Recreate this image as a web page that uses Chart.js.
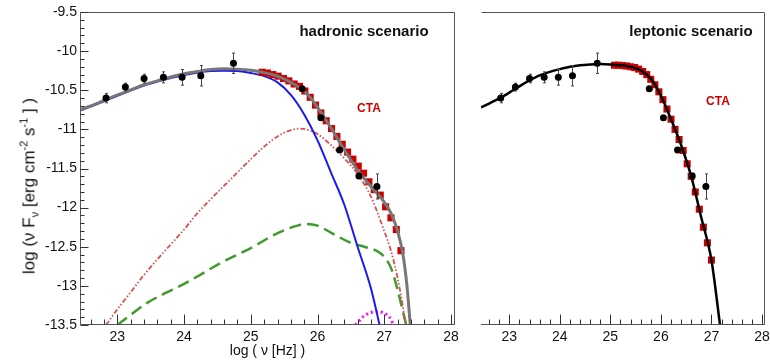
<!DOCTYPE html>
<html>
<head>
<meta charset="utf-8">
<script src="https://cdn.jsdelivr.net/npm/chart.js@4/dist/chart.umd.min.js"></script>
<style>
  html, body { margin: 0; padding: 0; background: #fff; overflow: hidden; }
  #wrap { position: relative; width: 770px; height: 363px; font-family: "Liberation Sans", Arial, sans-serif; color: #111; }
  canvas { position: absolute; top: 0; }
  #left { left: 0; }
  #right { left: 460px; }
  .lbl { position: absolute; white-space: nowrap; transform: translate(-50%, -50%); }
  .scen { font-weight: bold; font-size: 15px; }
  .cta { font-weight: bold; font-size: 12px; color: #cc0000; }
  #ylab { font-size: 17px; transform: translate(-50%, -50%) rotate(-90deg); }
  #ylab sub, #ylab sup { font-size: 11px; }
</style>
</head>
<body>
<div id="wrap">
  <canvas id="left" width="460" height="363"></canvas>
  <canvas id="right" width="310" height="363"></canvas>
  <div class="lbl" id="ylab" style="left:29px; top:186px;">log (&nu; F<sub>&nu;</sub> [erg cm<sup>-2</sup> s<sup>-1</sup> ] )</div>
  <div class="lbl scen" style="left:364px; top:30px;">hadronic scenario</div>
  <div class="lbl scen" style="left:691px; top:30px;">leptonic scenario</div>
  <div class="lbl cta" style="left:369px; top:108px;">CTA</div>
  <div class="lbl cta" style="left:718px; top:101px;">CTA</div>
</div>
<script>
// axis ranges and tick labels
const xMin = 22.44, xMax = 28.06;
const yMin = -13.5, yMax = -9.5;
const xTicks = [23, 24, 25, 26, 27, 28];
const yTicks = [-13.5, -13, -12.5, -12, -11.5, -11, -10.5, -10, -9.5];

// Fermi points (low energy), with errors
const fermiX = [22.83, 23.12, 23.40, 23.69, 23.97, 24.25, 24.74];
const fermiY = [-10.60, -10.46, -10.35, -10.335, -10.335, -10.315, -10.155];
const fermiErr = [0.06, 0.05, 0.055, 0.07, 0.10, 0.13, 0.13];

// high energy points
const hessX = [25.77, 26.05, 26.33, 26.62, 26.89];
const hessY = [-10.48, -10.85, -11.265, -11.595, -11.73];
const hessErr = [0.02, 0.02, 0.02, 0.03, 0.16];

// CTA simulated points, hadronic panel
const ctaHadX = [25.17, 25.25, 25.33, 25.41, 25.49, 25.57, 25.65, 25.73, 25.81, 25.89, 25.97, 26.05, 26.13, 26.21,
                 26.29, 26.37, 26.45, 26.53, 26.61, 26.69, 26.77, 26.85, 26.94, 27.02, 27.10, 27.18, 27.25];
const ctaHadY = [-10.27, -10.28, -10.30, -10.32, -10.35, -10.38, -10.42, -10.45, -10.51, -10.59, -10.69, -10.79, -10.89, -10.99,
                 -11.09, -11.19, -11.29, -11.38, -11.47, -11.56, -11.67, -11.77, -11.84, -11.99, -12.13, -12.28, -12.55];

// CTA simulated points, leptonic panel
const ctaLepX = [25.08, 25.16, 25.24, 25.32, 25.40, 25.48, 25.56, 25.64, 25.72, 25.80, 25.88, 25.96, 26.04,
                 26.12, 26.20, 26.28, 26.36, 26.44, 26.52, 26.60, 26.68, 26.76, 26.84, 26.92, 27.00];
const ctaLepY = [-10.18, -10.18, -10.185, -10.19, -10.20, -10.21, -10.23, -10.26, -10.30, -10.36, -10.43, -10.52, -10.62,
                 -10.74, -10.87, -11.00, -11.13, -11.27, -11.44, -11.60, -11.80, -12.02, -12.25, -12.45, -12.67];

// hadronic model: total (grey)
const totX = [22.44, 22.6, 22.8, 23.0, 23.2, 23.4, 23.6, 23.8, 24.0, 24.2, 24.4, 24.6, 24.8, 25.0, 25.2, 25.4,
              25.6, 25.8, 25.9, 26.0, 26.2, 26.4, 26.6, 26.8, 27.0, 27.1, 27.2, 27.28, 27.34, 27.39];
const totY = [-10.75, -10.70, -10.63, -10.56, -10.495, -10.43, -10.38, -10.33, -10.29, -10.26, -10.235, -10.225, -10.23, -10.245, -10.275, -10.32,
              -10.40, -10.51, -10.60, -10.72, -10.98, -11.26, -11.52, -11.73, -11.93, -12.07, -12.30, -12.60, -13.0, -13.5];

// hadronic model: synchrotron-like component (blue)
const blueX = [22.44, 22.6, 22.8, 23.0, 23.2, 23.4, 23.6, 23.8, 24.0, 24.2, 24.4, 24.6, 24.8, 25.0, 25.2, 25.4,
               25.6, 25.8, 26.0, 26.2, 26.4, 26.6, 26.8, 26.93];
const blueY = [-10.76, -10.71, -10.64, -10.57, -10.505, -10.44, -10.39, -10.345, -10.305, -10.275, -10.255, -10.25, -10.255, -10.28, -10.32, -10.40,
               -10.56, -10.81, -11.14, -11.55, -11.96, -12.50, -13.03, -13.5];

// hadronic model: red dash-dot component
const redX = [22.83, 23.0, 23.2, 23.4, 23.6, 23.8, 24.0, 24.2, 24.4, 24.6, 24.8, 25.0, 25.2, 25.4, 25.6, 25.75,
              25.9, 26.0, 26.2, 26.4, 26.6, 26.8, 27.0, 27.1, 27.2, 27.27, 27.32];
const redY = [-13.5, -13.3, -13.08, -12.86, -12.66, -12.47, -12.28, -12.07, -11.89, -11.72, -11.55, -11.38, -11.22, -11.09, -11.01, -10.99,
              -11.02, -11.06, -11.20, -11.37, -11.57, -11.86, -12.30, -12.55, -12.90, -13.22, -13.5];

// hadronic model: green dashed component
const greenX = [23.0, 23.2, 23.44, 23.7, 23.94, 24.2, 24.54, 24.8, 25.04, 25.3, 25.5, 25.7, 25.84, 26.0, 26.2, 26.5,
                26.7, 26.9, 27.0, 27.1, 27.2, 27.3, 27.33];
const greenY = [-13.5, -13.37, -13.22, -13.1, -13.0, -12.88, -12.71, -12.6, -12.5, -12.37, -12.29, -12.23, -12.21, -12.23, -12.32, -12.45,
                -12.5, -12.56, -12.63, -12.77, -13.05, -13.4, -13.5];

// hadronic model: magenta dotted component
const magX = [26.57, 26.69, 26.8, 26.92, 27.0, 27.07, 27.14];
const magY = [-13.5, -13.39, -13.34, -13.33, -13.35, -13.39, -13.5];

// leptonic model (black)
const lepX = [22.44, 22.6, 22.8, 23.0, 23.2, 23.4, 23.6, 23.8, 24.0, 24.2, 24.4, 24.6, 24.8, 25.0, 25.2, 25.4,
              25.6, 25.8, 26.0, 26.2, 26.4, 26.6, 26.8, 27.0, 27.17];
const lepY = [-10.72, -10.67, -10.605, -10.53, -10.45, -10.375, -10.31, -10.265, -10.23, -10.20, -10.18, -10.17, -10.165, -10.17, -10.18, -10.20,
              -10.245, -10.35, -10.57, -10.87, -11.20, -11.60, -12.13, -12.67, -13.5];

const FONT = "'Liberation Sans', Arial, sans-serif";

function pts(xs, ys) {
    return xs.map((x, i) => ({ x: x, y: ys[i] }));
}

function curve(xs, ys, color, width, dash, order) {
    return {
        data: pts(xs, ys),
        showLine: true,
        borderColor: color,
        borderWidth: width,
        borderDash: dash,
        pointRadius: 0,
        cubicInterpolationMode: "monotone",
        order: order
    };
}

function markers(xs, ys, style, color, radius, order, errs) {
    return {
        data: pts(xs, ys),
        showLine: false,
        pointStyle: style,
        pointRadius: radius,
        pointBackgroundColor: color,
        pointBorderColor: color,
        pointBorderWidth: 0,
        order: order,
        errorBars: errs
    };
}

// vertical error bars, drawn right before the dataset's own points
const errorBars = {
    id: "errorBars",
    beforeDatasetDraw(chart, args) {
        const ds = chart.data.datasets[args.index];
        if (!ds.errorBars) return;
        const ctx = chart.ctx, y = chart.scales.y;
        ctx.save();
        ctx.strokeStyle = "#444";
        ctx.lineWidth = 1;
        args.meta.data.forEach((p, i) => {
            const v = ds.data[i].y, e = ds.errorBars[i];
            const top = y.getPixelForValue(v + e), bot = y.getPixelForValue(v - e);
            const px = Math.round(p.x) + 0.5;
            ctx.beginPath();
            ctx.moveTo(px, top); ctx.lineTo(px, bot);
            ctx.moveTo(px - 1.5, top); ctx.lineTo(px + 1.5, top);
            ctx.moveTo(px - 1.5, bot); ctx.lineTo(px + 1.5, bot);
            ctx.stroke();
        });
        ctx.restore();
    }
};

// ROOT style frame with inward ticks
const frame = {
    id: "frame",
    afterDraw(chart, args, opts) {
        const ctx = chart.ctx, a = chart.chartArea;
        const x = chart.scales.x, y = chart.scales.y;
        const L = Math.round(a.left) + 0.5, R = Math.round(a.right) - 0.5;
        const T = Math.round(a.top) + 0.5, B = Math.round(a.bottom) - 0.5;
        ctx.save();
        ctx.strokeStyle = "#555";
        ctx.lineWidth = 1;
        ctx.beginPath();
        ctx.moveTo(L, T); ctx.lineTo(R, T); ctx.lineTo(R, B);
        ctx.moveTo(a.left, B); ctx.lineTo(a.right, B);
        if (opts.leftAxis) { ctx.moveTo(L, T); ctx.lineTo(L, B); }
        ctx.stroke();

        ctx.strokeStyle = "#333";
        ctx.beginPath();
        for (let i = 113; i <= 140; i++) {
            const px = Math.round(x.getPixelForValue(i / 5)) + 0.5;
            const len = (i % 5 === 0) ? 10 : 5;
            ctx.moveTo(px, B); ctx.lineTo(px, B - len);
        }
        if (opts.leftAxis) {
            for (let i = -135; i <= -95; i++) {
                const py = Math.round(y.getPixelForValue(i / 10)) + 0.5;
                const len = (i % 5 === 0) ? 8 : 4;
                ctx.moveTo(L, py); ctx.lineTo(L + len, py);
            }
        }
        ctx.stroke();
        ctx.restore();
    }
};

function makeChart(id, datasets, showY, pad, xTitle) {
    const ctx = document.getElementById(id).getContext("2d");
    return new Chart(ctx, {
        type: "scatter",
        data: { datasets: datasets },
        options: {
            responsive: false,
            animation: false,
            devicePixelRatio: 1,
            layout: { padding: pad },
            plugins: {
                legend: { display: false },
                tooltip: { enabled: false },
                frame: { leftAxis: showY }
            },
            scales: {
                x: {
                    type: "linear",
                    min: xMin,
                    max: xMax,
                    afterBuildTicks: s => { s.ticks = xTicks.map(v => ({ value: v })); },
                    afterFit: s => { s.height = 38; s.paddingLeft = 0; s.paddingRight = 0; },
                    grid: { display: false, drawTicks: false },
                    border: { display: false },
                    ticks: {
                        autoSkip: false,
                        maxRotation: 0,
                        padding: 4,
                        color: "#111",
                        font: { family: FONT, size: 14 },
                        callback: v => String(v)
                    },
                    title: {
                        display: !!xTitle,
                        text: xTitle,
                        color: "#111",
                        font: { family: FONT, size: 14 },
                        padding: { top: 0, bottom: 3 }
                    }
                },
                y: {
                    type: "linear",
                    display: showY,
                    min: yMin,
                    max: yMax,
                    afterBuildTicks: s => { s.ticks = yTicks.map(v => ({ value: v })); },
                    afterFit: s => { s.width = showY ? 80 : 0; s.paddingTop = 0; s.paddingBottom = 0; },
                    grid: { display: false, drawTicks: false },
                    border: { display: false },
                    ticks: {
                        autoSkip: false,
                        padding: 3,
                        color: "#111",
                        font: { family: FONT, size: 14 },
                        callback: v => String(v)
                    }
                }
            }
        },
        plugins: [errorBars, frame]
    });
}

makeChart("left", [
    markers(fermiX, fermiY, "circle", "#000", 3.5, 0, fermiErr),
    markers(hessX, hessY, "circle", "#000", 3.5, 0, hessErr),
    curve(totX, totY, "#777777", 3, [], 1),
    markers(ctaHadX, ctaHadY, "rect", "#cc0000", 5, 2),
    curve(blueX, blueY, "#1a1aee", 2, [], 3),
    curve(redX, redY, "#d85050", 1.8, [5, 2, 1.5, 2, 1.5, 2], 4),
    curve(greenX, greenY, "#3f9b2c", 2.5, [12, 6], 5),
    curve(magX, magY, "#ff00ff", 3, [2, 3], 6)
], true, { top: 12, right: 5, left: 0, bottom: 0 }, "log ( \u03bd [Hz] )");

makeChart("right", [
    markers(fermiX, fermiY, "circle", "#000", 3.5, 0, fermiErr),
    markers(hessX, hessY, "circle", "#000", 3.5, 0, hessErr),
    curve(lepX, lepY, "#000000", 2.5, [], 1),
    markers(ctaLepX, ctaLepY, "rect", "#cc0000", 5, 2)
], false, { top: 12, right: 1, left: 21, bottom: 0 }, "");
</script>
</body>
</html>
